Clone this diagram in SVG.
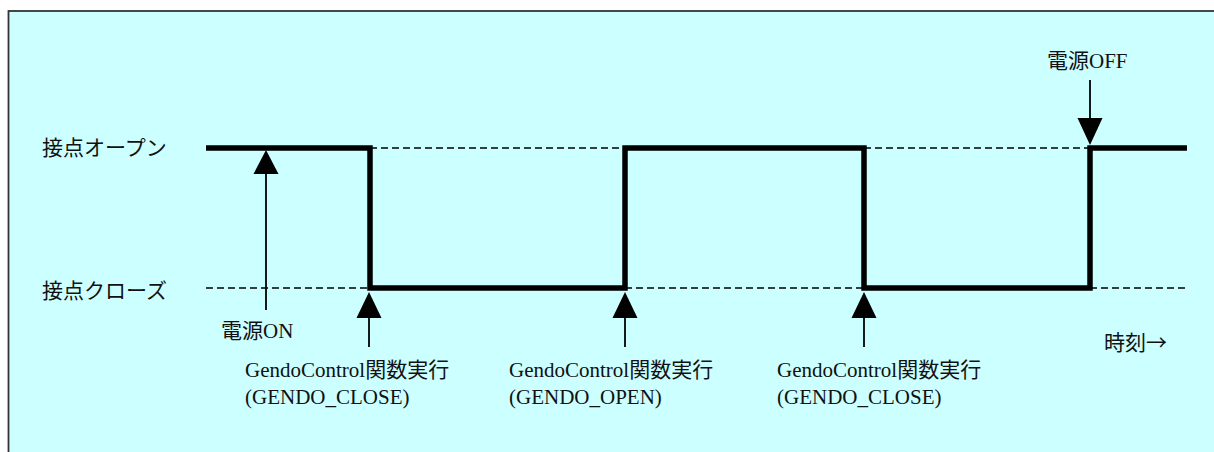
<svg xmlns="http://www.w3.org/2000/svg" width="1214" height="452" viewBox="0 0 1214 452">
<style>
.sig{fill:none;stroke:#000;stroke-width:5.5;stroke-linejoin:miter;stroke-linecap:butt}
.dash{fill:none;stroke:#000;stroke-width:1.4;stroke-dasharray:7 4}
.shaft{stroke:#000;stroke-width:1.8}
.head{fill:#000}
.t{font-family:"Liberation Serif","Noto Sans CJK JP",serif;font-size:21px;fill:#111}
.cjk{font-family:"Noto Sans CJK JP",sans-serif}
</style>
<rect x="0" y="0" width="1214" height="452" fill="#fff"/>
<rect id="frame" x="8.5" y="11" width="1220" height="460" fill="#ccffff" stroke="#333" stroke-width="1.8"/>
<g id="labels">
<text class="t" x="42" y="155">接点オープン</text>
<text class="t" x="42" y="298">接点クローズ</text>
<text class="t" x="1104" y="350">時刻<tspan class="cjk">→</tspan></text>
</g>
<g id="connectors">
<path class="dash" d="M370 148H625M864 148H1090"/>
<path class="dash" d="M206 288H370M625 288H864M1090 288H1188"/>
<path class="sig" d="M206 148H370V288H625V148H864V288H1090V148H1187"/>
</g>
<g id="power-on">
<line class="shaft" x1="266" y1="172" x2="266" y2="310"/>
<polygon class="head" points="266,150 253.5,174 278.5,174"/>
<text class="t" x="221" y="338">電源ON</text>
</g>
<g id="close1">
<line class="shaft" x1="369" y1="316" x2="369" y2="347"/>
<polygon class="head" points="369,292 356.5,318 381.5,318"/>
<text class="t" x="245" y="377">GendoControl関数実行</text>
<text class="t" x="245" y="404">(GENDO_CLOSE)</text>
</g>
<g id="open1">
<line class="shaft" x1="625" y1="316" x2="625" y2="347"/>
<polygon class="head" points="625,292 612.5,318 637.5,318"/>
<text class="t" x="509" y="377">GendoControl関数実行</text>
<text class="t" x="509" y="404">(GENDO_OPEN)</text>
</g>
<g id="close2">
<line class="shaft" x1="864" y1="316" x2="864" y2="347"/>
<polygon class="head" points="864,292 851.5,318 876.5,318"/>
<text class="t" x="777" y="377">GendoControl関数実行</text>
<text class="t" x="777" y="404">(GENDO_CLOSE)</text>
</g>
<g id="power-off">
<line class="shaft" x1="1090" y1="80" x2="1090" y2="120"/>
<polygon class="head" points="1090,145 1077.5,118 1102.5,118"/>
<text class="t" x="1047" y="68">電源OFF</text>
</g>
</svg>
